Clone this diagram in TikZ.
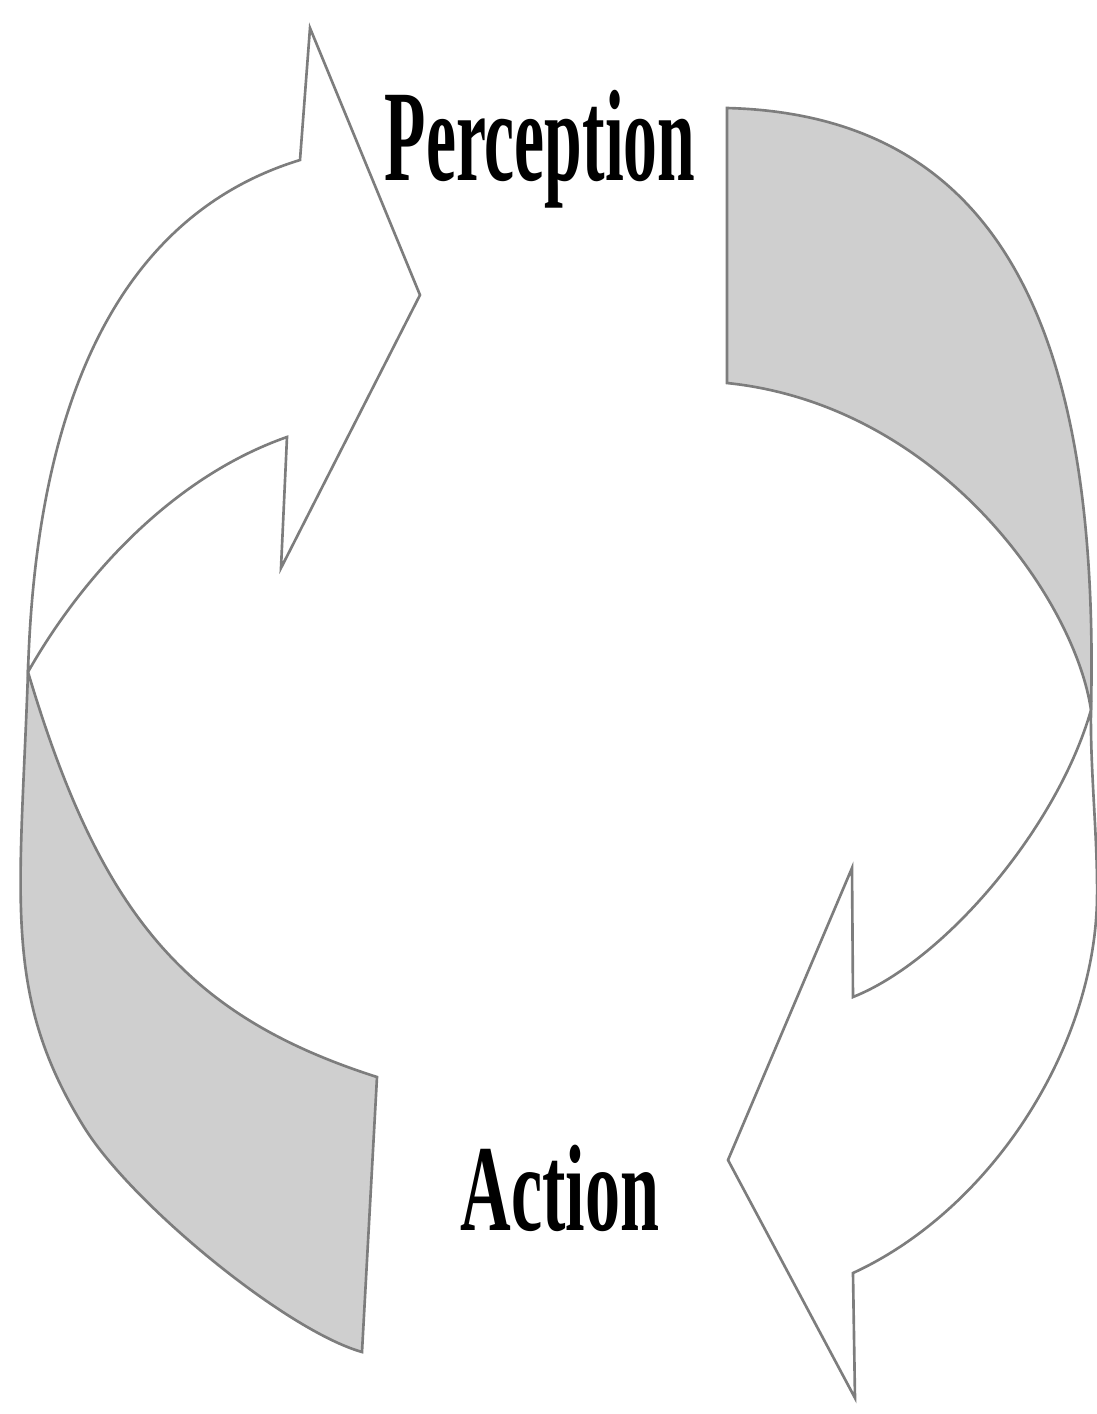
\documentclass[tikz,border=0pt]{standalone}
\usepackage{fontspec}
\setmainfont{Liberation Serif}
\usepackage{graphicx}
\usepackage{tikz}
\definecolor{linegray}{RGB}{125,125,125}
\definecolor{bandgray}{RGB}{207,207,207}

\begin{document}
\begin{tikzpicture}[x=0.01cm, y=-0.01cm, line width=0.75pt,
  front/.style={draw=linegray, fill=white, line join=miter},
  back/.style={draw=linegray, fill=bandgray, line join=miter},
  lbl/.style={inner sep=0pt, anchor=base, font=\fontsize{#1}{#1}\selectfont\bfseries}]
\useasboundingbox (0,0) rectangle (1097,1414);
% -- left arrow, head at the top pointing right --
\coordinate (lsh1) at (300,160);
\coordinate (lbarb1) at (310,28);
\coordinate (ltip) at (420,295);
\coordinate (lbarb2) at (281,568);
\coordinate (lsh2) at (287,437);
\coordinate (ltw) at (28,672);
\coordinate (lk) at (84,1127);
\coordinate (ltail1) at (377,1077);
\coordinate (ltail2) at (362,1352);
\draw[back] (ltw) .. controls (20,900) and (2,995) .. (lk) .. controls (131,1203) and (285,1330) .. (ltail2) -- (ltail1) .. controls (186,1016) and (100,914) .. (ltw) -- cycle;
\draw[front] (lsh1) -- (lbarb1) -- (ltip) -- (lbarb2) -- (lsh2) .. controls (170,478) and (80,580) .. (ltw) .. controls (36,400) and (120,215) .. (lsh1) -- cycle;
% -- right arrow, head at the bottom pointing left --
\coordinate (rtail1) at (727,108);
\coordinate (rtail2) at (727,383);
\coordinate (rtw) at (1091,710);
\coordinate (rk) at (1097,900);
\coordinate (rsh2) at (853,1273);
\coordinate (rbarb2) at (855,1398);
\coordinate (rtip) at (728,1160);
\coordinate (rbarb1) at (852,868);
\coordinate (rsh1) at (853,997);
\draw[back] (rtail1) .. controls (1000,115) and (1100,330) .. (rtw) .. controls (1075,600) and (940,405) .. (rtail2) -- cycle;
\draw[front] (rsh1) -- (rbarb1) -- (rtip) -- (rbarb2) -- (rsh2) .. controls (990,1210) and (1094,1050) .. (rk) .. controls (1098,840) and (1090,770) .. (rtw) .. controls (1058,826) and (946,960) .. (rsh1) -- cycle;
% -- labels --
\node[lbl=37] (perc) at (540,180) {\scalebox{0.52}[1]{Perception}};
\node[lbl=35] (act) at (560,1230) {\scalebox{0.57}[1]{Action}};
\end{tikzpicture}
\end{document}
